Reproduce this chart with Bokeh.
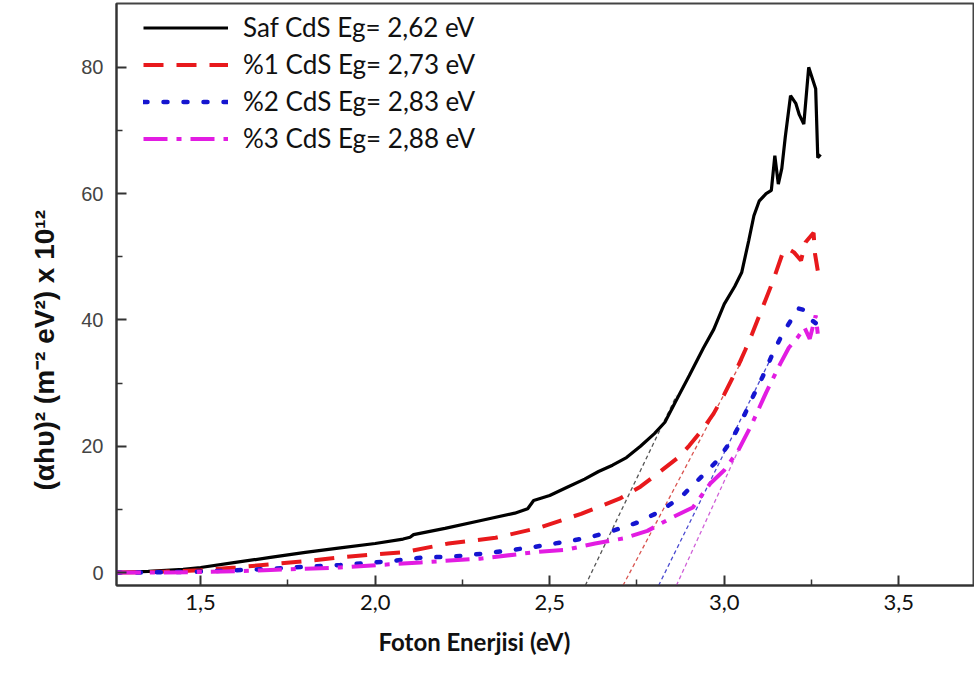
from bokeh.plotting import figure
from bokeh.models import Range1d, FixedTicker, Legend, LegendItem, Title
from bokeh.embed import file_html
from bokeh.resources import INLINE

# ---- data ----
saf_x = [1.26, 1.35, 1.45, 1.50, 1.60, 1.70, 1.80, 1.90, 2.00, 2.08, 2.10, 2.11, 2.20, 2.30, 2.40,
         2.437, 2.454, 2.50, 2.55, 2.60, 2.64, 2.68, 2.72, 2.76, 2.80, 2.83, 2.86, 2.90, 2.94, 2.97,
         3.00, 3.03, 3.05, 3.07, 3.085, 3.10, 3.12, 3.135, 3.145, 3.155, 3.165, 3.175, 3.19, 3.205,
         3.215, 3.228, 3.242, 3.262, 3.268, 3.276]
saf_y = [0.0, 0.2, 0.5, 0.8, 1.6, 2.4, 3.2, 3.9, 4.6, 5.3, 5.6, 6.0, 7.0, 8.2, 9.4,
         10.1, 11.4, 12.2, 13.5, 14.8, 16.0, 17.0, 18.2, 20.0, 22.0, 23.8, 27.0, 31.2, 35.5, 38.5,
         42.5, 45.3, 47.5, 52.5, 56.5, 58.8, 60.0, 60.5, 66.0, 61.5, 64.0, 69.0, 75.5, 74.3,
         72.5, 71.0, 80.0, 76.6, 65.7, 66.2]

cd1_x = [1.26, 1.40, 1.50, 1.60, 1.70, 1.80, 1.90, 2.00, 2.08, 2.21, 2.345, 2.47, 2.59, 2.70, 2.76,
         2.81, 2.87, 2.90, 2.94, 2.97, 3.00, 3.03, 3.06, 3.08, 3.11, 3.14, 3.15, 3.17, 3.185, 3.20,
         3.22, 3.233, 3.256, 3.26, 3.268]
cd1_y = [0.0, 0.15, 0.35, 0.8, 1.3, 1.8, 2.4, 2.9, 3.2, 4.6, 5.5, 7.1, 9.3, 11.7, 13.6,
         15.7, 18.3, 20.1, 22.8, 25.2, 28.2, 31.5, 35.2, 37.8, 42.0, 46.2, 47.8, 51.0, 51.2, 50.7,
         49.4, 52.3, 53.8, 50.5, 47.8]

cd2_x = [1.26, 1.40, 1.50, 1.60, 1.70, 1.80, 1.90, 2.00, 2.06, 2.14, 2.22, 2.31, 2.38, 2.45, 2.53,
         2.61, 2.68, 2.75, 2.81, 2.875, 2.93, 2.98, 3.02, 3.05, 3.08, 3.11, 3.14, 3.167, 3.185,
         3.213, 3.233, 3.25, 3.262]
cd2_y = [0.0, 0.05, 0.15, 0.35, 0.6, 0.9, 1.2, 1.6, 1.9, 2.4, 2.5, 3.0, 3.5, 4.0, 4.75,
         5.5, 6.6, 7.9, 9.5, 11.9, 14.9, 17.7, 20.9, 24.0, 27.6, 31.0, 34.8, 37.8, 39.4,
         41.8, 41.5, 40.0, 39.5]

cd3_x = [1.26, 1.40, 1.50, 1.60, 1.70, 1.80, 1.90, 2.04, 2.13, 2.30, 2.47, 2.546, 2.63, 2.71, 2.78,
         2.85, 2.91, 2.96, 3.00, 3.04, 3.08, 3.12, 3.16, 3.185, 3.21, 3.23, 3.245, 3.262, 3.268]
cd3_y = [0.0, 0.0, 0.1, 0.2, 0.4, 0.6, 0.8, 1.3, 1.6, 2.2, 3.3, 3.6, 4.6, 5.4, 6.6,
         8.7, 10.3, 14.1, 16.2, 19.3, 23.6, 28.5, 33.0, 35.6, 37.2, 38.8, 37.0, 40.7, 37.8]

# tangent (band-gap extrapolation) lines: bottom and top end points
tan_x0 = [2.602, 2.710, 2.812, 2.863]
tan_y0 = [-2.05, -2.05, -2.05, -2.05]
tan_x1 = [2.863, 3.055, 3.130, 3.050]
tan_y1 = [28.0, 34.0, 33.5, 20.5]
tan_colors = ["#555555", "#d9534f", "#4a4ad0", "#d060d8"]

labels = ["Saf CdS Eg= 2,62 eV", "%1 CdS Eg= 2,73 eV", "%2 CdS Eg= 2,83 eV", "%3 CdS Eg= 2,88 eV"]
x_title = "Foton Enerjisi (eV)"
y_title = "(αhυ)² (m⁻² eV²) x 10¹²"

x_ticks = [1.5, 2.0, 2.5, 3.0, 3.5]
x_minor = [1.25, 1.75, 2.25, 2.75, 3.25, 3.75]
x_tick_labels = ["1,5", "2,0", "2,5", "3,0", "3,5"]
y_ticks = [0, 20, 40, 60, 80]
y_minor = [10, 30, 50, 70]

# ---- figure ----
p = figure(width=974, height=675, output_backend="svg", toolbar_location=None,
           x_range=Range1d(1.259, 3.717), y_range=Range1d(-2.05, 90.1),
           min_border_left=116, min_border_top=3, min_border_right=0, min_border_bottom=90)
p.xgrid.visible = False
p.ygrid.visible = False
p.outline_line_color = "#444444"
p.outline_line_width = 2
p.background_fill_color = "white"
p.border_fill_color = "white"

for i in range(4):
    p.segment(x0=[tan_x0[i]], y0=[tan_y0[i]], x1=[tan_x1[i]], y1=[tan_y1[i]],
              line_color=tan_colors[i], line_width=1.3, line_dash="4 3")

r0 = p.line(saf_x, saf_y, line_color="black", line_width=3.2)
r1 = p.line(cd1_x, cd1_y, line_color="#e8191c", line_width=4, line_dash="20 13")
r2 = p.line(cd2_x, cd2_y, line_color="#1515d0", line_width=4.5, line_dash="4 16", line_cap="round")
r3 = p.line(cd3_x, cd3_y, line_color="#e21ce2", line_width=4, line_dash="24 9 5 9")

# axes
xa = p.xaxis[0]
xa.ticker = FixedTicker(ticks=x_ticks, minor_ticks=x_minor)
xa.major_label_overrides = {t: l for t, l in zip(x_ticks, x_tick_labels)}
ya = p.yaxis[0]
ya.ticker = FixedTicker(ticks=y_ticks, minor_ticks=y_minor)

for ax in (xa, ya):
    ax.axis_line_width = 2
    ax.axis_line_color = "#333333"
    ax.major_tick_in = 10
    ax.major_tick_out = 0
    ax.minor_tick_in = 6
    ax.minor_tick_out = 0
    ax.major_tick_line_color = "#333333"
    ax.minor_tick_line_color = "#333333"
    ax.major_tick_line_width = 2
    ax.minor_tick_line_width = 1.5

xa.major_label_text_font = "Lato"
xa.major_label_text_font_size = "22px"
xa.major_label_text_color = "#111111"
xa.major_label_standoff = 9

ya.major_label_text_font = "Liberation Sans"
ya.major_label_text_font_size = "20px"
ya.major_label_text_color = "#444444"
ya.major_label_standoff = 13

# axis titles, positioned as in the reference
xt = Title(text=x_title, align="left", offset=262, text_font="Lato", text_font_style="bold",
           text_font_size="24px", text_color="#111111", standoff=25)
p.add_layout(xt, "below")
yt = Title(text=y_title, align="left", offset=95, text_font="Liberation Sans",
           text_font_style="bold", text_font_size="28px", text_color="#111111", standoff=38)
p.add_layout(yt, "left")

legend = Legend(items=[LegendItem(label=labels[0], renderers=[r0]),
                       LegendItem(label=labels[1], renderers=[r1]),
                       LegendItem(label=labels[2], renderers=[r2]),
                       LegendItem(label=labels[3], renderers=[r3])],
                location=(27, 431))
legend.margin = 0
legend.padding = 0
legend.spacing = 5
legend.glyph_width = 85
legend.glyph_height = 27
legend.label_height = 27
legend.label_standoff = 15
legend.label_text_font = "Lato"
legend.label_text_font_size = "26px"
legend.label_text_color = "#111111"
legend.background_fill_alpha = 0
legend.border_line_color = None
p.add_layout(legend, "center")

open("out.html", "w").write(file_html(p, INLINE))
